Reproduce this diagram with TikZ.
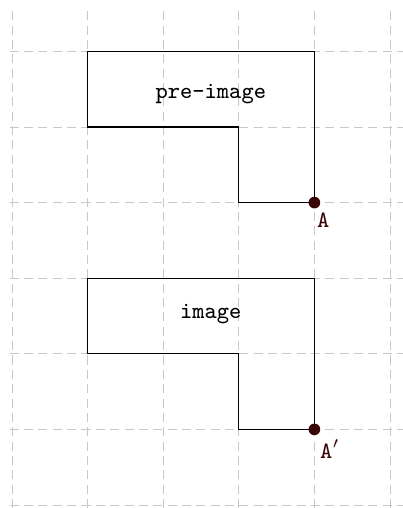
\documentclass[tikz,border=0pt]{standalone}
\definecolor{ptcol}{HTML}{3A0505}
\definecolor{gridcol}{HTML}{C8C8C8}
\tikzset{
  gridline/.style={gridcol, line width=0.35pt, dash pattern=on 3.4pt off 2pt},
  outline/.style={black, line width=0.5pt},
  lbl/.style={font=\fontsize{8.8}{10}\selectfont\ttfamily, inner sep=0pt},
  ptlbl/.style={font=\fontsize{8.8}{10}\selectfont\ttfamily, text=ptcol, inner sep=0pt, anchor=north west},
  dot/.style={circle, fill=ptcol, inner sep=0pt, minimum size=4.4pt}
}
\begin{document}
\begin{tikzpicture}
\useasboundingbox (-0.159,-0.04) rectangle (5.172,6.68);
\foreach \x in {0,...,5} \draw[gridline] (\x,-0.04) -- (\x,6.57);
\foreach \y in {0,...,6} \draw[gridline] (-0.03,\y) -- (5.172,\y);
\draw[outline] (1,6) -- (4,6) -- (4,4) -- (3,4) -- (3,5) -- (1,5) -- cycle;
\draw[outline] (1,3) -- (4,3) -- (4,1) -- (3,1) -- (3,2) -- (1,2) -- cycle;
\node[lbl] (pre) at (2.63,5.43) {pre-image};
\node[lbl] (img) at (2.63,2.52) {image};
\node[dot] (A) at (4,4) {};
\node[dot] (Ap) at (4,1) {};
\node[ptlbl] (Al) at (4.03,3.87) {A};
\node[ptlbl] (Apl) at (4.07,0.87) {A$'$};
\end{tikzpicture}
\end{document}
